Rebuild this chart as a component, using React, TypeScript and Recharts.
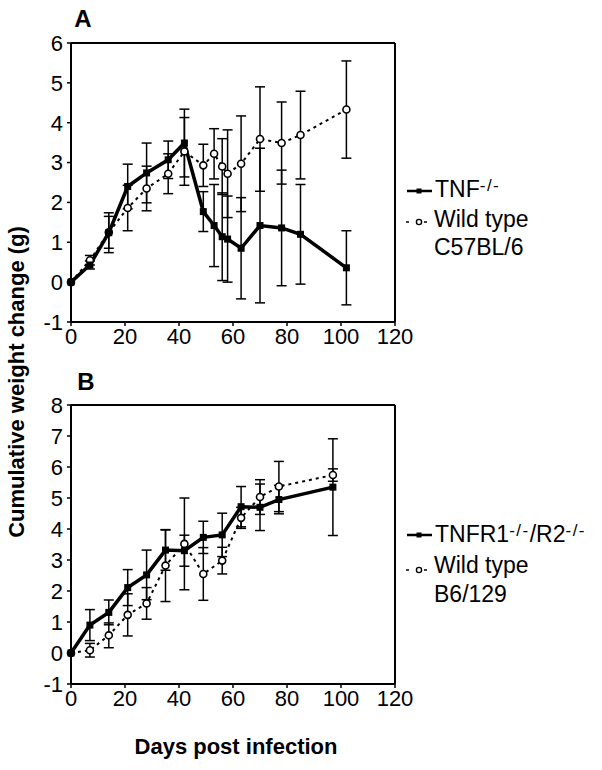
import React from 'react';
import { LineChart, Line, XAxis, YAxis, ErrorBar, ReferenceLine } from 'recharts';

// Panel A: TNF-/- vs wild type C57BL/6
const daysA = [0, 7, 14, 21, 28, 36, 42, 49, 53, 56, 58, 63, 70, 78, 85, 102];
const tnfMean = [0, 0.43, 1.24, 2.4, 2.74, 3.07, 3.49, 1.77, 1.42, 1.14, 1.08, 0.85, 1.42, 1.36, 1.2, 0.36];
const tnfErr = [0, 0.1, 0.5, 0.56, 0.75, 0.47, 0.85, 0.5, 1.03, 1.1, 1.08, 1.27, 1.94, 1.45, 1.25, 0.93];
const wtAMean = [0, 0.55, 1.25, 1.86, 2.35, 2.72, 3.28, 2.93, 3.22, 2.9, 2.72, 2.97, 3.59, 3.49, 3.69, 4.33];
const wtAErr = [0, 0.12, 0.4, 0.57, 0.56, 0.5, 0.85, 0.53, 0.63, 0.7, 1.1, 1.2, 1.31, 1.03, 1.1, 1.22];

// Panel B: TNFR1-/-/R2-/- vs wild type B6/129
const daysB = [0, 7, 14, 21, 28, 35, 42, 49, 56, 63, 70, 77, 97];
const tnfrMean = [0, 0.9, 1.31, 2.11, 2.52, 3.32, 3.3, 3.73, 3.81, 4.72, 4.7, 4.95, 5.35];
const tnfrErr = [0, 0.5, 0.4, 0.58, 0.8, 0.65, 0.5, 0.52, 0.7, 0.65, 0.75, 0.46, 1.56];
const wtBMean = [0, 0.09, 0.57, 1.23, 1.6, 2.82, 3.52, 2.55, 2.98, 4.36, 5.03, 5.37, 5.74];
const wtBErr = [0, 0.22, 0.4, 0.68, 0.51, 1.16, 1.48, 0.85, 0.43, 0.34, 0.56, 0.81, 0.2];

const xTicks = [0, 20, 40, 60, 80, 100, 120];
const yTicksA = [-1, 0, 1, 2, 3, 4, 5, 6];
const yTicksB = [-1, 0, 1, 2, 3, 4, 5, 6, 7, 8];

const dataA = daysA.map((d, i) => ({
  day: d, ko: tnfMean[i], koErr: tnfErr[i], wt: wtAMean[i], wtErr: wtAErr[i],
}));
const dataB = daysB.map((d, i) => ({
  day: d, ko: tnfrMean[i], koErr: tnfrErr[i], wt: wtBMean[i], wtErr: wtBErr[i],
}));

const font = '"Liberation Sans", Arial, Helvetica, sans-serif';

const SquareDot = (props: any) => {
  const { cx, cy, index } = props;
  if (cx == null || cy == null) return <g key={`s-${index}`} />;
  return <rect key={`s-${index}`} x={cx - 3.5} y={cy - 3.5} width={7} height={7} fill="#000" />;
};

const CircleDot = (props: any) => {
  const { cx, cy, index } = props;
  if (cx == null || cy == null) return <g key={`c-${index}`} />;
  return <circle key={`c-${index}`} cx={cx} cy={cy} r={3.5} fill="#fff" stroke="#000" strokeWidth={1.6} />;
};

const Panel = ({ data, yMax, yTicks }: { data: any[]; yMax: number; yTicks: number[] }) => (
  <LineChart width={420} height={356} data={data} margin={{ top: 43, right: 25, bottom: 4, left: 31 }}>
    <XAxis
      dataKey="day"
      type="number"
      domain={[0, 120]}
      ticks={xTicks}
      height={30}
      tickSize={4}
      tickMargin={2}
      axisLine={{ stroke: '#000', strokeWidth: 2 }}
      tickLine={{ stroke: '#000', strokeWidth: 1.5 }}
      tick={{ fill: '#000', fontSize: 22, fontFamily: font }}
      interval={0}
    />
    <YAxis
      type="number"
      domain={[-1, yMax]}
      ticks={yTicks}
      width={40}
      tickSize={4}
      tickMargin={4}
      axisLine={{ stroke: '#000', strokeWidth: 2 }}
      tickLine={{ stroke: '#000', strokeWidth: 1.5 }}
      tick={{ fill: '#000', fontSize: 22, fontFamily: font }}
      interval={0}
    />
    <ReferenceLine y={yMax} stroke="#000" strokeWidth={2} />
    <ReferenceLine x={120} stroke="#000" strokeWidth={2} />
    <Line
      dataKey="wt"
      stroke="#000"
      strokeWidth={2}
      strokeDasharray="3 4"
      dot={CircleDot}
      activeDot={false}
      isAnimationActive={false}
    >
      <ErrorBar dataKey="wtErr" width={5} stroke="#000" strokeWidth={1.5} direction="y" />
    </Line>
    <Line
      dataKey="ko"
      stroke="#000"
      strokeWidth={3.5}
      dot={SquareDot}
      activeDot={false}
      isAnimationActive={false}
    >
      <ErrorBar dataKey="koErr" width={5} stroke="#000" strokeWidth={1.5} direction="y" />
    </Line>
  </LineChart>
);

const txt = { fontFamily: font, fill: '#000' };

export default function App() {
  return (
    <div style={{ position: 'absolute', left: 0, top: 0, width: 602, height: 770, background: '#fff' }}>
      <div style={{ position: 'absolute', left: 0, top: 0 }}>
        <Panel data={dataA} yMax={6} yTicks={yTicksA} />
      </div>
      <div style={{ position: 'absolute', left: 0, top: 362 }}>
        <Panel data={dataB} yMax={8} yTicks={yTicksB} />
      </div>
      <svg width={602} height={770} style={{ position: 'absolute', left: 0, top: 0, pointerEvents: 'none' }}>
        <text x={83} y={27} textAnchor="middle" fontSize={24} fontWeight="bold" {...txt}>A</text>
        <text x={86} y={390} textAnchor="middle" fontSize={24} fontWeight="bold" {...txt}>B</text>
        <text
          x={0}
          y={0}
          transform="translate(24, 382) rotate(-90)"
          textAnchor="middle"
          fontSize={22}
          fontWeight="bold"
          {...txt}
        >
          Cumulative weight change (g)
        </text>
        <text x={236} y={754} textAnchor="middle" fontSize={22} fontWeight="bold" {...txt}>Days post infection</text>

        {/* legend A */}
        <line x1={407} y1={191} x2={432} y2={191} stroke="#000" strokeWidth={2.5} />
        <rect x={416.5} y={188.5} width={5} height={5} fill="#000" />
        <text x={435} y={197} fontSize={23} {...txt}>
          TNF<tspan fontSize={17} dy={-6} letterSpacing={1.5}>-/-</tspan>
        </text>
        <line x1={406} y1={222} x2={409} y2={222} stroke="#000" strokeWidth={1.5} />
        <circle cx={419} cy={222} r={2.6} fill="#fff" stroke="#000" strokeWidth={1.4} />
        <line x1={424} y1={222} x2={427} y2={222} stroke="#000" strokeWidth={1.5} />
        <text x={434} y={227} fontSize={23} {...txt}>Wild type</text>
        <text x={434} y={255} fontSize={23} {...txt}>C57BL/6</text>

        {/* legend B */}
        <line x1={407} y1={535} x2={432} y2={535} stroke="#000" strokeWidth={2.5} />
        <rect x={416.5} y={532.5} width={5} height={5} fill="#000" />
        <text x={435} y={542} fontSize={23} {...txt}>
          TNFR1<tspan fontSize={17} dy={-6} letterSpacing={1.5}>-/-</tspan>
          <tspan fontSize={23} dy={6}>/R2</tspan>
          <tspan fontSize={17} dy={-6} letterSpacing={1.5}>-/-</tspan>
        </text>
        <line x1={406} y1={570} x2={409} y2={570} stroke="#000" strokeWidth={1.5} />
        <circle cx={419} cy={570} r={2.6} fill="#fff" stroke="#000" strokeWidth={1.4} />
        <line x1={424} y1={570} x2={427} y2={570} stroke="#000" strokeWidth={1.5} />
        <text x={434} y={573} fontSize={23} {...txt}>Wild type</text>
        <text x={434} y={602} fontSize={23} {...txt}>B6/129</text>
      </svg>
    </div>
  );
}
